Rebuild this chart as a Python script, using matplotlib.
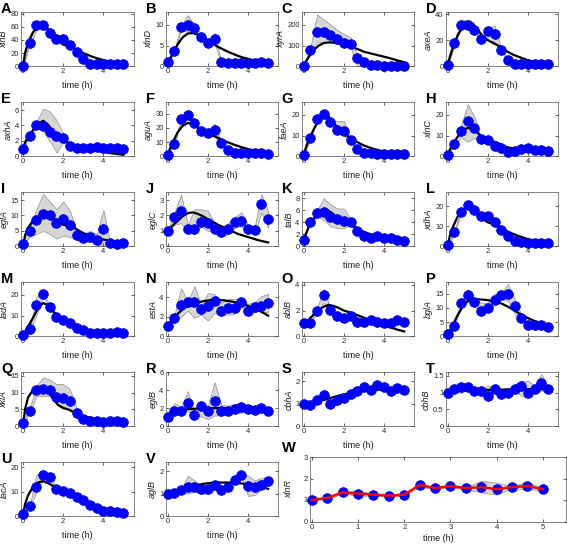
import numpy as np
import matplotlib
matplotlib.use('Agg')
import matplotlib.pyplot as plt

plt.rcParams['font.family'] = ['Liberation Sans', 'DejaVu Sans']

# ------------------------------------------------------------
# data: 16 sampling times, model curve on a finer grid
# ------------------------------------------------------------
t_obs = [0, 1/3, 2/3, 1, 4/3, 5/3, 2, 7/3, 8/3, 3, 10/3, 11/3, 4, 13/3, 14/3, 5]
fit_t = [0, 0.1, 0.25, 0.5, 0.75, 1, 1.25, 1.5, 1.75, 2, 2.25, 2.5, 2.75, 3,
         3.25, 3.5, 3.75, 4, 4.25, 4.5, 4.75, 5]

xlnB_obs = [1, 36, 62, 63, 50, 42, 41, 33, 22, 11, 4, 3, 3, 3, 3, 3]
xlnB_lo = [0, 32, 55, 60, 47, 39, 38, 30, 20, 9, 3, 2, 2, 2, 2, 2]
xlnB_hi = [2, 40, 67, 66, 53, 45, 44, 36, 25, 13, 5, 4, 4, 4, 4, 4]
xlnB_fit = [0, 20, 36, 52, 60, 63, 57, 46, 38, 33, 30.5, 27.5, 24, 20, 17, 14, 11.5, 9.5, 7.8, 6.3, 5.1, 4.2]

xlnD_obs = [1, 3.6, 9.4, 10, 9.2, 7, 5.7, 6.5, 1, 0.9, 0.9, 0.9, 0.9, 0.9, 1.0, 0.9]
xlnD_lo = [0.8, 3.2, 8.8, 8.4, 8.5, 6.5, 5.3, 5.5, 0.8, 0.7, 0.7, 0.7, 0.7, 0.7, 0.8, 0.7]
xlnD_hi = [1.2, 4.0, 10, 12.3, 10, 7.6, 6.2, 8.0, 1.2, 1.1, 1.1, 1.1, 1.1, 1.1, 1.2, 1.1]
xlnD_fit = [1, 1.8, 3.0, 5.3, 7.0, 7.9, 8.0, 7.6, 6.9, 6.1, 5.4, 4.7, 4.1, 3.5, 3.0, 2.5, 2.1, 1.8, 1.5, 1.2, 1.0, 0.9]

xyrA_obs = [2, 77, 165, 167, 150, 131, 113, 108, 41, 20, 6, 4, 3, 3, 3, 3]
xyrA_lo = [0, 60, 118, 115, 118, 110, 100, 95, 0, 10, 3, 2, 2, 2, 2, 2]
xyrA_hi = [4, 90, 250, 225, 200, 175, 155, 140, 55, 30, 9, 5, 5, 5, 5, 5]
xyrA_fit = [0, 22, 45, 78, 100, 112, 115, 114, 110, 105, 99, 90, 80, 70, 64, 58, 52, 46, 40, 33, 26, 20]

axeA_obs = [1, 18, 32, 32, 28, 21, 27, 25, 12.5, 5, 2, 2, 2, 2, 2, 2]
axeA_lo = [0, 16, 30, 30, 26, 20, 20, 19, 11, 4, 1.5, 1.5, 1.5, 1.5, 1.5, 1.5]
axeA_hi = [2, 20, 35, 36, 30, 22, 30, 31, 14, 6, 2.5, 2.5, 2.5, 2.5, 2.5, 2.5]
axeA_fit = [0, 7, 14, 24, 30, 34, 33, 28, 23, 20, 18, 16, 13.5, 11, 9, 7.5, 6, 4.6, 3.7, 3, 2.5, 2.1]

axhA_obs = [1, 2.6, 4.1, 3.95, 3.2, 2.6, 2.4, 1.4, 1.1, 1.05, 1.05, 1.25, 1.1, 1.1, 1.1, 1.0]
axhA_lo = [0.9, 2.4, 3.8, 3.3, 2.0, 0.5, 1.8, 1.2, 1.0, 0.9, 0.9, 1.0, 0.9, 0.9, 0.9, 0.9]
axhA_hi = [1.1, 2.9, 4.4, 6.2, 5.8, 4.7, 3.0, 1.7, 1.3, 1.3, 1.3, 1.5, 1.3, 1.3, 1.2, 1.1]
axhA_fit = [1, 1.8, 2.5, 3.4, 4.2, 4.6, 4.1, 3.1, 2.4, 2.0, 1.75, 1.5, 1.3, 1.1, 0.95, 0.8, 0.68, 0.55, 0.45, 0.36, 0.28, 0.2]

aguA_obs = [1, 9, 26, 29, 23.6, 17.7, 16.5, 18.4, 9.5, 4.5, 2.6, 2.6, 2.6, 2.3, 2.6, 1.7]
aguA_lo = [0.8, 8, 24.5, 27, 22, 16, 15, 14, 8.5, 3.8, 2, 2, 2, 1.9, 2, 1.4]
aguA_hi = [1.2, 10, 27.5, 31, 25, 19, 18, 23, 10.5, 5.2, 3.2, 3.2, 3.2, 2.8, 3.2, 2.0]
aguA_fit = [0, 5, 10, 17, 21.5, 23.5, 23, 20, 17, 15.5, 14.5, 13, 11.3, 9.8, 8.5, 7.2, 6.1, 5.1, 4.3, 3.5, 2.9, 2.3]

faeA_obs = [0.8, 8.7, 18, 20.3, 16.7, 12.8, 12, 7.8, 3.5, 1.6, 1.4, 1.3, 1.3, 1.3, 1.3, 1.3]
faeA_lo = [0.6, 8, 17.5, 19.8, 16, 11, 10, 7, 3, 1.4, 1.1, 1.1, 1.1, 1.1, 1.1, 1.1]
faeA_hi = [1.0, 9.5, 18.5, 21, 17.5, 17, 17, 8.5, 4, 1.9, 1.6, 1.5, 1.5, 1.5, 1.5, 1.5]
faeA_fit = [0, 4, 8, 13, 17.5, 20.5, 19, 16, 13, 11, 9.3, 7.8, 6.4, 5.2, 4.3, 3.5, 2.9, 2.3, 1.9, 1.6, 1.4, 1.2]

xlnC_obs = [0.7, 6, 12, 17.2, 13.8, 8.2, 7.7, 5, 4.1, 2.3, 2.5, 3.4, 3.9, 3.1, 3.1, 2.6]
xlnC_lo = [0.5, 5.5, 9, 7, 9, 7.5, 7, 4.5, 3.5, 2, 2.2, 3, 3.4, 2.8, 2.8, 2.3]
xlnC_hi = [0.9, 6.5, 15, 25, 19, 9, 8.3, 5.5, 4.7, 2.7, 2.8, 3.8, 4.3, 3.4, 3.4, 2.9]
xlnC_fit = [0, 3, 6, 9.5, 12.5, 13.7, 13.2, 11.2, 8.8, 7.6, 7.2, 6.4, 5.2, 4.3, 3.8, 3.3, 2.8, 2.4, 2.0, 1.7, 1.3, 1.0]

eglA_obs = [0.8, 4.8, 8.4, 10.6, 10.1, 7.7, 9, 7, 3.7, 2.7, 3, 2.1, 5.5, 1.1, 0.9, 1.1]
eglA_lo = [0.6, 3, 4, 5, 4, 2.5, 3.5, 3, 2, 1.5, 1.5, 0.5, 0, 0.8, 0.7, 0.9]
eglA_hi = [1.0, 6, 12, 17, 14.5, 12, 14.5, 11.5, 5, 4, 5, 4, 11.8, 1.5, 1.2, 1.3]
eglA_fit = [0, 3.5, 6, 8.3, 9.7, 10.3, 10, 9, 7.8, 7, 6.8, 6.2, 5.2, 4.3, 3.6, 3.0, 2.6, 2.2, 1.9, 1.6, 1.4, 1.2]

eglC_obs = [1, 1.9, 2.3, 1.1, 1.1, 1.6, 1.5, 1.15, 0.9, 1.15, 1.55, 1.65, 1.1, 1.05, 2.75, 1.75]
eglC_lo = [0.95, 1.4, 1.5, 0.9, 0.8, 1.3, 1.0, 0.9, 0.6, 0.8, 1.2, 1.3, 0.9, 0.8, 2.2, 1.2]
eglC_hi = [1.05, 2.2, 3.35, 1.4, 2.4, 2.4, 2.3, 1.5, 1.2, 1.5, 1.9, 2.2, 1.4, 1.3, 3.4, 2.3]
eglC_fit = [1, 1.15, 1.35, 1.65, 1.95, 2.15, 2.2, 2.1, 1.95, 1.75, 1.58, 1.4, 1.25, 1.1, 0.95, 0.8, 0.7, 0.6, 0.5, 0.4, 0.32, 0.25]

talB_obs = [1, 4.1, 5.6, 5.75, 4.9, 4.5, 4.2, 4.05, 2.6, 1.7, 1.4, 1.8, 1.4, 1.35, 1.05, 0.95]
talB_lo = [0.95, 3.8, 5.0, 4.4, 3.3, 3.0, 3.0, 3.5, 2.3, 1.5, 1.2, 1.1, 1.2, 1.2, 0.9, 0.85]
talB_hi = [1.05, 4.4, 6.0, 8.0, 7.0, 6.3, 6.3, 4.6, 2.9, 1.9, 1.6, 2.0, 1.6, 1.5, 1.2, 1.05]
talB_fit = [1, 2, 3.3, 4.6, 5.5, 6.0, 5.9, 5.3, 4.6, 4.1, 3.8, 3.3, 2.8, 2.4, 2.1, 1.8, 1.55, 1.3, 1.1, 0.9, 0.75, 0.6]

xdhA_obs = [0.7, 7, 17.4, 20.8, 18.3, 15.2, 15.2, 12.3, 8, 5.3, 2.9, 2.4, 1.7, 1.7, 1.7, 1.5]
xdhA_lo = [0.5, 6, 16.5, 20, 17.5, 14.5, 14.5, 11.5, 7.3, 4.8, 2.5, 2, 1.5, 1.5, 1.5, 1.3]
xdhA_hi = [0.9, 8, 18.3, 21.5, 19, 16, 16, 13, 8.7, 5.8, 3.3, 2.8, 1.9, 1.9, 1.9, 1.7]
xdhA_fit = [0, 5, 9.5, 15, 18, 19.3, 18.5, 16, 13.5, 12, 11.2, 10, 8.6, 7.3, 6.2, 5.2, 4.4, 3.6, 3.0, 2.5, 2.1, 1.7]

ladA_obs = [0.8, 3.5, 15, 20.5, 14, 9.5, 8, 6.2, 4, 2.8, 1.8, 1.7, 1.7, 1.7, 1.9, 1.7]
ladA_lo = [0.6, 3, 10, 19.5, 13.5, 9, 7.5, 5.8, 3.7, 2.5, 1.6, 1.5, 1.5, 1.5, 1.7, 1.5]
ladA_hi = [1.0, 4, 19, 21.5, 14.5, 10, 8.5, 6.6, 4.3, 3.1, 2.0, 1.9, 1.9, 1.9, 2.1, 1.9]
ladA_fit = [0, 2, 4.5, 9, 13.5, 16, 15, 12, 9.5, 7.8, 6.6, 5.5, 4.5, 3.7, 3.1, 2.6, 2.3, 2.0, 1.85, 1.7, 1.6, 1.5]

estA_obs = [1, 1.85, 3.2, 3.5, 3.5, 2.75, 3.05, 3.6, 2.55, 2.85, 2.9, 3.45, 2.6, 3.0, 3.1, 3.35]
estA_lo = [0.95, 1.5, 2.0, 2.6, 1.9, 2.2, 1.6, 2.4, 2.2, 2.2, 2.3, 3.0, 2.1, 2.5, 2.6, 2.4]
estA_hi = [1.05, 2.2, 4.9, 3.6, 5.1, 3.2, 4.4, 4.3, 3.4, 3.8, 3.8, 3.7, 3.3, 3.5, 4.1, 4.3]
estA_fit = [1, 1.35, 1.7, 2.3, 2.75, 3.1, 3.3, 3.45, 3.57, 3.65, 3.69, 3.7, 3.67, 3.6, 3.52, 3.4, 3.27, 3.1, 2.9, 2.65, 2.4, 2.1]

ablB_obs = [1, 1, 2, 3.2, 2.05, 1.6, 1.45, 1.55, 1.15, 1.15, 1.25, 1.15, 1.0, 1.0, 1.25, 1.15]
ablB_lo = [0.95, 0.95, 1.9, 2.6, 1.95, 1.5, 1.35, 1.45, 1.05, 1.05, 1.15, 1.05, 0.9, 0.9, 1.15, 1.05]
ablB_hi = [1.05, 1.05, 2.2, 3.7, 2.15, 1.7, 1.55, 1.65, 1.25, 1.25, 1.35, 1.25, 1.1, 1.1, 1.35, 1.25]
ablB_fit = [1, 1.1, 1.3, 1.7, 2.05, 2.3, 2.45, 2.35, 2.2, 2.0, 1.88, 1.75, 1.6, 1.45, 1.3, 1.15, 1.0, 0.85, 0.72, 0.6, 0.48, 0.38]

bglA_obs = [0.8, 3.7, 11.7, 14.5, 12, 9, 9.9, 12.9, 14.5, 15, 10.5, 6.3, 3.9, 3.9, 3.9, 3.3]
bglA_lo = [0.6, 3.2, 11, 13, 10.5, 8.5, 8.8, 11, 13, 12.5, 8, 5.5, 3.5, 3.5, 3.5, 3.0]
bglA_hi = [1.0, 4.2, 12.5, 16.5, 13, 11.8, 11.8, 15, 15, 18.5, 13, 7.5, 4.3, 4.3, 4.3, 3.6]
bglA_fit = [0, 2, 4, 7.5, 10.5, 12.3, 13, 13, 12.9, 12.7, 12.4, 12, 11.3, 10.4, 9.4, 8.3, 7.3, 6.4, 5.6, 4.8, 4.2, 3.7]

xkiA_obs = [1, 4.6, 10.7, 11.2, 10.8, 8.7, 8.5, 7.5, 3.8, 2.2, 1.7, 1.5, 1.4, 1.5, 1.7, 1.4]
xkiA_lo = [0.8, 4, 9, 9, 9, 6.5, 6, 5, 2.5, 1.8, 1.4, 1.2, 1.1, 1.2, 1.4, 1.1]
xkiA_hi = [1.2, 5.2, 12, 14.5, 13.8, 12.5, 12.5, 11, 5.5, 2.8, 2.0, 1.8, 1.7, 1.8, 2.0, 1.7]
xkiA_fit = [0, 5, 8.5, 10.8, 11.7, 11.7, 10.5, 8.2, 6.3, 5.4, 5.0, 4.3, 3.6, 3.0, 2.7, 2.4, 2.1, 1.9, 1.65, 1.4, 1.15, 0.9]

eglB_obs = [1, 1.75, 1.7, 2.6, 1.3, 2.25, 1.65, 2.85, 1.65, 1.7, 1.95, 2.1, 1.95, 1.85, 2.05, 1.65]
eglB_lo = [0.95, 1.3, 1.4, 1.7, 1.1, 1.1, 0.8, 1.2, 1.2, 1.4, 1.5, 1.5, 1.6, 1.5, 1.6, 1.3]
eglB_hi = [1.05, 2.6, 2.1, 3.9, 1.6, 2.6, 2.3, 4.9, 2.4, 2.3, 2.5, 2.4, 2.4, 2.2, 2.6, 1.9]
eglB_fit = [1, 1.2, 1.4, 1.65, 1.8, 1.9, 1.94, 1.97, 1.99, 2.0, 2.01, 2.02, 2.02, 2.02, 2.01, 2.0, 1.98, 1.95, 1.93, 1.9, 1.83, 1.75]

cbhA_obs = [1, 0.95, 1.15, 1.38, 1.0, 1.15, 1.25, 1.45, 1.55, 1.75, 1.6, 1.85, 1.75, 1.55, 1.72, 1.62]
cbhA_lo = [0.97, 0.9, 1.1, 1.3, 0.85, 0.95, 1.2, 1.4, 1.5, 1.65, 1.55, 1.75, 1.65, 1.5, 1.65, 1.45]
cbhA_hi = [1.03, 1.0, 1.2, 1.45, 1.1, 1.25, 1.3, 1.5, 1.6, 1.85, 1.7, 1.95, 1.85, 1.65, 1.8, 1.8]
cbhA_fit = [1, 1.0, 1.02, 1.05, 1.1, 1.18, 1.24, 1.3, 1.36, 1.42, 1.47, 1.52, 1.55, 1.58, 1.6, 1.62, 1.63, 1.63, 1.63, 1.63, 1.62, 1.62]

cbhB_obs = [1, 1.1, 1.15, 1.15, 1.05, 1.05, 0.9, 1.1, 0.95, 1.0, 1.1, 1.2, 1.0, 1.1, 1.27, 1.1]
cbhB_lo = [0.98, 1.05, 0.98, 1.1, 1.0, 1.0, 0.75, 1.05, 0.9, 0.95, 1.05, 0.9, 0.85, 1.05, 1.05, 1.05]
cbhB_hi = [1.02, 1.15, 1.2, 1.2, 1.1, 1.1, 1.2, 1.15, 1.0, 1.05, 1.15, 1.35, 1.35, 1.2, 1.55, 1.15]
cbhB_fit = [1, 1.02, 1.04, 1.05, 1.06, 1.07, 1.07, 1.08, 1.08, 1.08, 1.08, 1.08, 1.09, 1.09, 1.09, 1.09, 1.09, 1.1, 1.1, 1.1, 1.1, 1.1]

lacA_obs = [0.9, 4, 11.8, 17, 16, 11, 10.5, 9.5, 7.7, 6.8, 4.8, 3.4, 2.3, 2.0, 1.8, 1.5]
lacA_lo = [0.7, 3.5, 10, 14.5, 15, 10.5, 10, 9, 7.2, 6.3, 4.4, 3.0, 2.0, 1.7, 1.5, 1.2]
lacA_hi = [1.1, 4.5, 17, 18, 17, 11.5, 11, 10, 8.2, 7.3, 5.2, 3.8, 2.6, 2.3, 2.1, 1.8]
lacA_fit = [0, 5, 8.5, 12, 13.8, 14.3, 13.5, 12.3, 11.3, 10.5, 9.7, 8.8, 7.9, 6.9, 6.0, 5.0, 4.2, 3.4, 2.8, 2.2, 1.8, 1.4]

aglB_obs = [1, 1.05, 1.15, 1.3, 1.3, 1.2, 1.2, 1.4, 1.15, 1.3, 1.6, 1.83, 1.35, 1.28, 1.38, 1.55]
aglB_lo = [0.98, 1.0, 1.1, 1.0, 1.1, 1.0, 1.0, 1.2, 1.1, 1.25, 1.55, 1.75, 0.9, 0.95, 1.2, 1.45]
aglB_hi = [1.02, 1.1, 1.2, 1.8, 1.6, 1.35, 1.35, 1.45, 1.2, 1.35, 1.65, 1.9, 1.8, 1.6, 1.7, 1.65]
aglB_fit = [1, 1.05, 1.1, 1.18, 1.25, 1.3, 1.35, 1.4, 1.44, 1.47, 1.49, 1.5, 1.5, 1.5, 1.49, 1.48, 1.45, 1.42, 1.38, 1.33, 1.28, 1.22]

xlnR_obs = [1.0, 1.1, 1.35, 1.3, 1.25, 1.2, 1.25, 1.7, 1.55, 1.65, 1.55, 1.6, 1.5, 1.6, 1.65, 1.5]
xlnR_lo = [0.98, 1.05, 1.3, 1.2, 1.2, 1.15, 1.2, 1.62, 1.5, 1.6, 1.5, 1.35, 1.25, 1.55, 1.5, 1.45]
xlnR_hi = [1.02, 1.15, 1.4, 1.42, 1.3, 1.25, 1.3, 1.75, 1.6, 1.7, 1.6, 1.9, 1.8, 1.65, 1.85, 1.55]

# letter, gene, data, ylim, yticks
panels = [
    ('A', 'xlnB', xlnB_obs, xlnB_lo, xlnB_hi, xlnB_fit, 82, [0, 20, 40, 60, 80]),
    ('B', 'xlnD', xlnD_obs, xlnD_lo, xlnD_hi, xlnD_fit, 13, [0, 5, 10]),
    ('C', 'xyrA', xyrA_obs, xyrA_lo, xyrA_hi, xyrA_fit, 260, [0, 100, 200]),
    ('D', 'axeA', axeA_obs, axeA_lo, axeA_hi, axeA_fit, 41.5, [0, 20, 40]),
    ('E', 'axhA', axhA_obs, axhA_lo, axhA_hi, axhA_fit, 7, [0, 2, 4, 6]),
    ('F', 'aguA', aguA_obs, aguA_lo, aguA_hi, aguA_fit, 38, [0, 10, 20, 30]),
    ('G', 'faeA', faeA_obs, faeA_lo, faeA_hi, faeA_fit, 26, [0, 10, 20]),
    ('H', 'xlnC', xlnC_obs, xlnC_lo, xlnC_hi, xlnC_fit, 26, [0, 10, 20]),
    ('I', 'eglA', eglA_obs, eglA_lo, eglA_hi, eglA_fit, 17.5, [0, 5, 10, 15]),
    ('J', 'eglC', eglC_obs, eglC_lo, eglC_hi, eglC_fit, 3.5, [0, 1, 2, 3]),
    ('K', 'talB', talB_obs, talB_lo, talB_hi, talB_fit, 9, [0, 2, 4, 6, 8]),
    ('L', 'xdhA', xdhA_obs, xdhA_lo, xdhA_hi, xdhA_fit, 27, [0, 10, 20]),
    ('M', 'ladA', ladA_obs, ladA_lo, ladA_hi, ladA_fit, 26, [0, 10, 20]),
    ('N', 'estA', estA_obs, estA_lo, estA_hi, estA_fit, 5.5, [0, 2, 4]),
    ('O', 'ablB', ablB_obs, ablB_lo, ablB_hi, ablB_fit, 4.2, [0, 2, 4]),
    ('P', 'bglA', bglA_obs, bglA_lo, bglA_hi, bglA_fit, 19, [0, 5, 10, 15]),
    ('Q', 'xkiA', xkiA_obs, xkiA_lo, xkiA_hi, xkiA_fit, 16, [0, 5, 10, 15]),
    ('R', 'eglB', eglB_obs, eglB_lo, eglB_hi, eglB_fit, 6, [0, 2, 4, 6]),
    ('S', 'cbhA', cbhA_obs, cbhA_lo, cbhA_hi, cbhA_fit, 2.4, [0, 1, 2]),
    ('T', 'cbhB', cbhB_obs, cbhB_lo, cbhB_hi, cbhB_fit, 1.6, [0, 0.5, 1, 1.5]),
    ('U', 'lacA', lacA_obs, lacA_lo, lacA_hi, lacA_fit, 22, [0, 10, 20]),
    ('V', 'aglB', aglB_obs, aglB_lo, aglB_hi, aglB_fit, 2.4, [0, 1, 2]),
]

# ------------------------------------------------------------
FW, FH = 567, 545
fig = plt.figure(figsize=(FW / 100, FH / 100), dpi=100)

BLUE = '#0000ff'
BAND = '#d6d6d6'
BAND_EDGE = '#8f8f8f'
FRAME = '#4d4d4d'


def add_ax(left, top, w, h):
    return fig.add_axes([left / FW, 1 - (top + h) / FH, w / FW, h / FH])


def style(ax, gene, ytop, yticks, xticks, xlim):
    ax.set_xlim(*xlim)
    ax.set_ylim(0, ytop)
    ax.set_xticks(xticks)
    ax.set_yticks(yticks)
    ax.set_yticklabels([f'{v:g}' for v in yticks])
    ax.tick_params(direction='in', length=2, width=0.5, labelsize=5.5,
                   colors='#262626', pad=1.5, top=True, right=True)
    ax.tick_params(axis='x', labeltop=False)
    ax.tick_params(axis='y', labelright=False)
    for s in ax.spines.values():
        s.set_linewidth(0.5)
        s.set_color(FRAME)
    ax.set_xlabel('time (h)', fontsize=6.5, color='#1a1a1a')
    ax.set_ylabel(gene, fontsize=6.5, style='italic', color='#1a1a1a', labelpad=1.5)


col_left = [21, 165.7, 301.7, 445.7]
row_top = [12.3 + 90 * i for i in range(6)]
AW, AH = 112.5, 54

for i, (letter, gene, obs, lo, hi, fit, ytop, yticks) in enumerate(panels):
    r, c = divmod(i, 4)
    left, top = col_left[c], row_top[r]
    ax = add_ax(left, top, AW, AH)
    ax.fill_between(t_obs, lo, hi, facecolor=BAND, edgecolor=BAND_EDGE, linewidth=0.5)
    ax.plot(fit_t, fit, color='black', linewidth=1.6)
    ax.plot(t_obs, obs, 'o', color=BLUE, markersize=7, markeredgecolor='#0000d0',
            markeredgewidth=0.5, clip_on=False, zorder=4)
    style(ax, gene, ytop, yticks, [0, 2, 4], (-0.1, 5.5))
    ax.xaxis.set_label_coords(0.5, -0.27)
    fig.text((left - 20) / FW, 1 - (top + 0.5) / FH, letter, fontsize=10.5,
             fontweight='bold', va='baseline', ha='left')

# panel W: xlnR, wide
ax = add_ax(310, 457, 256, 64.5)
ax.fill_between(t_obs, xlnR_lo, xlnR_hi, facecolor=BAND, edgecolor=BAND_EDGE, linewidth=0.5)
ax.plot(t_obs, xlnR_obs, 'o', color=BLUE, markersize=7, markeredgecolor='#0000d0',
        markeredgewidth=0.5, clip_on=False, zorder=3)
ax.plot(t_obs, xlnR_obs, color='#ff0000', linewidth=1.8, zorder=4)
style(ax, 'xlnR', 3, [0, 1, 2, 3], [0, 1, 2, 3, 4, 5], (-0.04, 5.5))
ax.yaxis.set_label_coords(-0.066, 0.5)
ax.xaxis.set_label_coords(0.5, -0.2)
fig.text(282 / FW, 1 - 452 / FH, 'W', fontsize=10.5, fontweight='bold', va='baseline', ha='left')

fig.savefig('out.png', dpi=100)
